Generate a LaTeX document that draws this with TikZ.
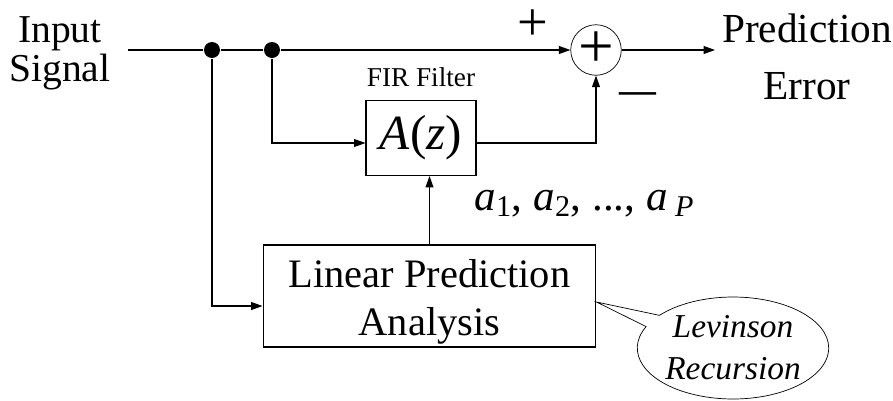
\documentclass[tikz,border=0pt]{standalone}
\usepackage{fontspec}
\setmainfont{Liberation Serif}
\usetikzlibrary{arrows.meta,shapes.callouts,positioning}

\newcommand{\fsize}[2]{\fontsize{#1pt}{#2pt}\selectfont}

\begin{document}
\begin{tikzpicture}[
        x=0.02cm, y=-0.02cm,
        >={Triangle[length=6.5pt,width=4.5pt]},
        line width=0.6pt,
        every node/.style={inner sep=0pt},
        blk/.style={draw},
        dot/.style={circle, fill, minimum size=0.32cm}
    ]
    \useasboundingbox (0,0) rectangle (893,400);

    % Input and output labels
    \node[font=\fsize{22.5}{22}, align=center] (in) at (60,53) {Input\\Signal};
    \node[font=\fsize{23.5}{32.3}, align=center] (pe) at (807,57) {Prediction\\Error};

    % Branch points
    \coordinate (start) at (128,50);
    \node[dot] (j1) at (212,50) {};
    \node[dot] (j2) at (272,50) {};

    % Summing junction and signs
    \node[circle, draw, line width=0.4pt, minimum size=1cm,
          font=\fsize{36}{36}] (sum) at (596,50) {+};
    \node[font=\fsize{31}{31}] (plus) at (533,25) {+};
    \node[font=\fsize{21}{21}\bfseries] (minus) at (638,98) {---};
    \coordinate (outend) at (715,50);

    % Blocks
    \node[blk, minimum width=2.2cm, minimum height=1.5cm,
          font=\fsize{28}{28}\itshape] (az) at (421,138) {A\textup{(}z\textup{)}};
    \node[font=\fsize{15.5}{15.5}, above=0.26cm of az] (fir) {FIR Filter};
    \node[blk, minimum width=6.66cm, minimum height=2.04cm,
          font=\fsize{23}{27.2}, align=center] (lpa) at (429.5,296)
          {\rule{0pt}{1em}Linear Prediction\\Analysis};

    % Coefficients
    \node[anchor=base west, font=\fsize{24.5}{24.5}] (coef) at (474,210)
      {\textit{a}\textsubscript{1}, \textit{a}\textsubscript{2}, ..., \textit{a}\,\textsubscript{\textit{P}}};

    % Callout
    \node[ellipse callout, draw, line width=0.4pt,
          minimum width=3.76cm, minimum height=2.04cm,
          callout absolute pointer={([yshift=-0.12cm]lpa.east)},
          font=\fsize{19}{23.8}\itshape, align=center] (lev) at (733,348)
          {Levinson\\Recursion};

    % Connections
    \draw (start) -- (j1);
    \draw (j1) -- (j2);
    \draw[->] (j2) -- (sum);
    \draw[->] (sum) -- (outend);
    \draw[->] (j2) |- ([yshift=-0.1cm]az.west);
    \draw[->] ([yshift=-0.1cm]az.east) -| (sum);
    \draw[->] (j1) |- ([yshift=-0.2cm]lpa.west);
    \draw[->] (lpa.north) -- (lpa.north |- az.south);
\end{tikzpicture}
\end{document}
